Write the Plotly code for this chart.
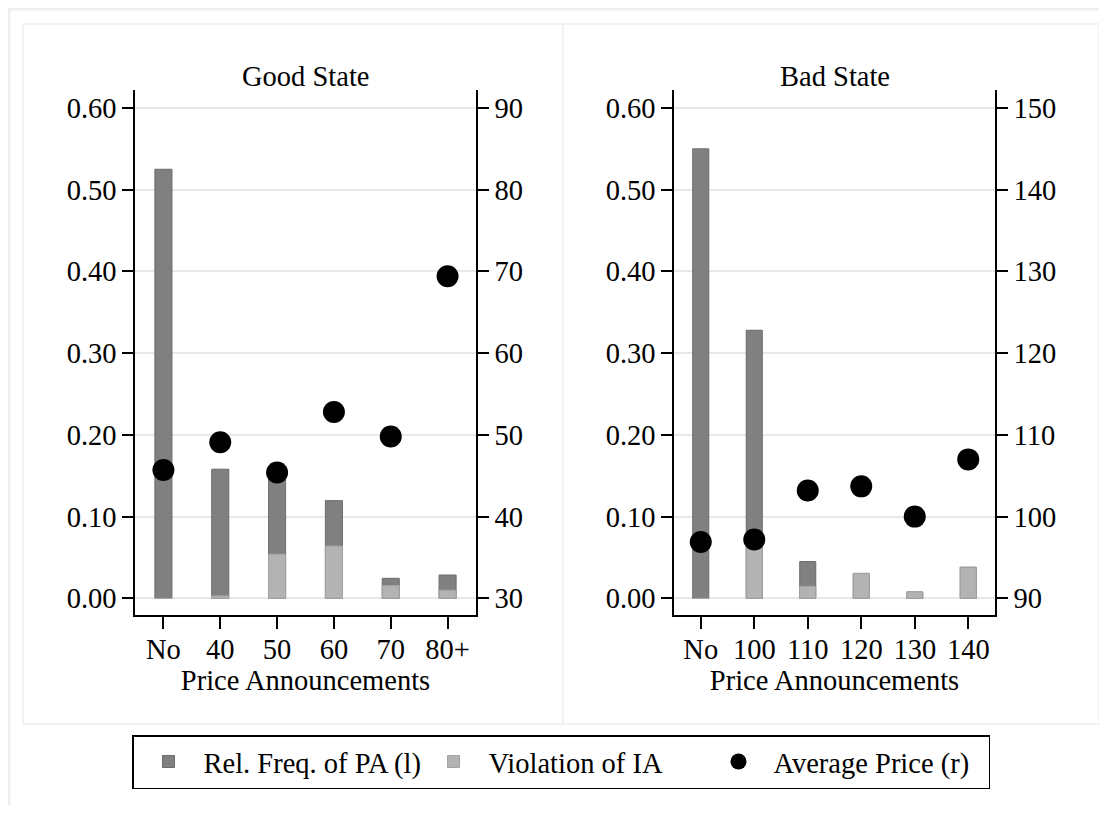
import plotly.graph_objects as go

# ---- data ----
good_cats = ["No", "40", "50", "60", "70", "80+"]
good_freq = [0.525, 0.158, 0.152, 0.1195, 0.0245, 0.0285]
good_viol = [0.0, 0.003, 0.054, 0.064, 0.0155, 0.010]
good_price = [45.7, 49.1, 45.4, 52.8, 49.8, 69.4]

bad_cats = ["No", "100", "110", "120", "130", "140"]
bad_freq = [0.55, 0.328, 0.045, 0.030, 0.0078, 0.038]
bad_viol = [0.0, 0.065, 0.0147, 0.0307, 0.0078, 0.038]
bad_price = [96.9, 97.2, 103.2, 103.7, 100.0, 107.0]

left_ticks = [0.0, 0.1, 0.2, 0.3, 0.4, 0.5, 0.6]
good_right_ticks = [30, 40, 50, 60, 70, 80, 90]
bad_right_ticks = [90, 100, 110, 120, 130, 140, 150]

# ---- style ----
OFF = 8                      # default body margin of the html page
W, H = 1107 - 2 * OFF, 813 - 2 * OFF
FONT = "Liberation Serif"
FS = 28.5
DARK = "#808080"
DARK_LINE = "#6a6a6a"
LIGHT = "#b3b3b3"
LIGHT_LINE = "#a2a2a2"
GRID = "#e8e8e8"
FRAME = "#eeeeee"


def px_x(x):
    return (x - OFF) / W


def px_y(y):
    return 1 - (y - OFF) / H


y_dom = [px_y(615), px_y(90)]
x_dom1 = [px_x(135), px_x(476)]
x_dom2 = [px_x(674), px_x(995)]

fig = go.Figure()

panels = [
    (good_cats, good_freq, good_viol, good_price, "x", "y", "y2", True),
    (bad_cats, bad_freq, bad_viol, bad_price, "x2", "y3", "y4", False),
]
for cats, freq, viol, price, xa, ya, ya2, show in panels:
    fig.add_trace(go.Bar(
        x=cats, y=freq, xaxis=xa, yaxis=ya, width=0.3,
        marker=dict(color=DARK, line=dict(color=DARK_LINE, width=1)),
        name="Rel. Freq. of PA (l)", legendgroup="f", showlegend=show))
    fig.add_trace(go.Bar(
        x=cats, y=viol, xaxis=xa, yaxis=ya, width=0.3,
        marker=dict(color=LIGHT, line=dict(color=LIGHT_LINE, width=1)),
        name="Violation of IA", legendgroup="v", showlegend=show))
    fig.add_trace(go.Scatter(
        x=cats, y=price, xaxis=xa, yaxis=ya2, mode="markers",
        marker=dict(color="black", size=22),
        name="Average Price (r)", legendgroup="p", showlegend=show))

yl_range = [-0.0204, 0.622]

common_y = dict(
    showline=True, linecolor="black", linewidth=1.5,
    ticks="outside", ticklen=11, tickwidth=1.5, tickcolor="black",
    tickfont=dict(family=FONT, size=FS, color="black"),
    zeroline=False,
)
common_x = dict(
    type="category", range=[-0.5, 5.5],
    showline=True, linecolor="black", linewidth=1.5,
    ticks="outside", ticklen=12, tickwidth=1.5, tickcolor="black",
    tickfont=dict(family=FONT, size=FS, color="black"),
    ticklabelstandoff=-4,
    showgrid=False, zeroline=False,
    title=dict(text="Price Announcements", font=dict(family=FONT, size=FS, color="black"), standoff=0),
)

fig.update_layout(
    width=W, height=H,
    margin=dict(l=0, r=0, t=0, b=0),
    paper_bgcolor="white", plot_bgcolor="white",
    barmode="overlay",
    font=dict(family=FONT, size=FS, color="black"),
    xaxis=dict(domain=x_dom1, anchor="y", **common_x),
    xaxis2=dict(domain=x_dom2, anchor="y3", **common_x),
    yaxis=dict(domain=y_dom, anchor="x", range=yl_range, tickvals=left_ticks,
               tickformat=".2f", showgrid=True, gridcolor=GRID, gridwidth=2, **common_y),
    yaxis2=dict(overlaying="y", anchor="x", side="right",
                range=[30 + 100 * yl_range[0], 30 + 100 * yl_range[1]],
                tickvals=good_right_ticks, showgrid=False, **common_y),
    yaxis3=dict(domain=y_dom, anchor="x2", range=yl_range, tickvals=left_ticks,
                tickformat=".2f", showgrid=True, gridcolor=GRID, gridwidth=2, **common_y),
    yaxis4=dict(overlaying="y3", anchor="x2", side="right",
                range=[90 + 100 * yl_range[0], 90 + 100 * yl_range[1]],
                tickvals=bad_right_ticks, showgrid=False, **common_y),
    legend=dict(
        orientation="h", x=px_x(132), y=px_y(735), xanchor="left", yanchor="top",
        bordercolor="black", borderwidth=1.5, bgcolor="white",
        font=dict(family=FONT, size=FS, color="black"),
        itemwidth=60,
        entrywidth=210, entrywidthmode="pixels",
        traceorder="normal",
    ),
    showlegend=True,
)

# subplot titles
for txt, xc in [("Good State", (135 + 476) / 2), ("Bad State", (674 + 995) / 2)]:
    fig.add_annotation(text=txt, x=px_x(xc), y=px_y(76), xref="paper", yref="paper",
                       xanchor="center", yanchor="middle", showarrow=False,
                       font=dict(family=FONT, size=FS, color="black"))

# frames
fig.add_shape(type="rect", xref="paper", yref="paper",
              x0=px_x(9), y0=px_y(840), x1=px_x(1130), y1=px_y(9),
              line=dict(color="#efefef", width=3), layer="below")
fig.add_shape(type="rect", xref="paper", yref="paper",
              x0=px_x(23), y0=px_y(724), x1=px_x(1099), y1=px_y(24),
              line=dict(color=FRAME, width=1.5), layer="below")
fig.add_shape(type="line", xref="paper", yref="paper",
              x0=px_x(563), y0=px_y(724), x1=px_x(563), y1=px_y(24),
              line=dict(color=FRAME, width=1.5), layer="below")

fig.write_html("out.html")
